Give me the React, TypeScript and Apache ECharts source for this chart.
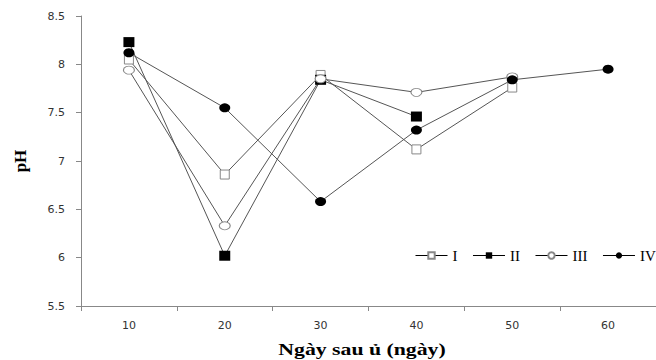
import React, { useEffect, useRef } from "react";
import * as echarts from "echarts";

const days = ["10", "20", "30", "40", "50", "60"];
const seriesNames = ["I", "II", "III", "IV"];
const phI = [8.05, 6.86, 7.89, 7.12, 7.76, null];
const phII = [8.23, 6.02, 7.84, 7.46, null, null];
const phIII = [7.94, 6.33, 7.85, 7.71, 7.87, null];
const phIV = [8.12, 7.55, 6.58, 7.32, 7.84, 7.95];
const yTicks = { min: 5.5, max: 8.5, interval: 0.5 };

export default function App() {
  const ref = useRef<HTMLDivElement>(null);
  useEffect(() => {
    if (!ref.current) return;
    document.body.style.margin = "0";
    const chart = echarts.init(ref.current, null, { renderer: "svg" });
    const lineStyle = { color: "#555", width: 1 };
    const mk = (name: string, data: (number | null)[], symbol: string, size: number | number[], filled: boolean) => ({
      name,
      type: "line",
      data,
      symbol,
      symbolSize: size,
      showAllSymbol: true,
      lineStyle,
      itemStyle: filled
        ? { color: "#000", borderColor: "#000", borderWidth: 0 }
        : { color: "#fff", borderColor: "#888", borderWidth: 1 },
      emphasis: { disabled: true },
    });
    chart.setOption({
      animation: false,
      grid: { left: 81, top: 16, height: 290, width: 582 },
      legend: {
        left: 410,
        top: 243,
        width: 320,
        itemGap: 15,
        itemWidth: 32,
        itemHeight: 8,
        lineStyle: { color: "#000", width: 1 },
        textStyle: { fontFamily: "Liberation Serif", fontSize: 15, color: "#000" },
        data: seriesNames,
      },
      xAxis: {
        type: "category",
        data: days,
        boundaryGap: true,
        axisLine: { lineStyle: { color: "#888", width: 1 } },
        axisTick: { show: true, length: 5, lineStyle: { color: "#888" } },
        axisLabel: { fontFamily: "DejaVu Sans", fontSize: 11, color: "#333", margin: 14 },
      },
      yAxis: {
        type: "value",
        min: yTicks.min,
        max: yTicks.max,
        interval: yTicks.interval,
        splitLine: { show: false },
        axisLine: { show: true, lineStyle: { color: "#888", width: 1 } },
        axisTick: { show: true, length: 5, lineStyle: { color: "#888" } },
        axisLabel: { fontFamily: "DejaVu Sans", fontSize: 11, color: "#333", margin: 16 },
        name: "pH",
        nameLocation: "middle",
        nameGap: 52,
        nameTextStyle: { fontFamily: "Liberation Serif", fontWeight: "bold", fontSize: 17, color: "#000" },
      },
      graphic: [
        {
          type: "text",
          x: 362,
          y: 349,
          scaleX: 1.28,
          style: {
            text: "Ngày sau ủ (ngày)",
            fontFamily: "Liberation Serif",
            fontWeight: "bold",
            fontSize: 17,
            fill: "#000",
            align: "center",
            verticalAlign: "middle",
          },
        },
      ],
      series: [
        mk("I", phI, "rect", 9, false),
        mk("II", phII, "rect", [11, 10], true),
        mk("III", phIII, "circle", [11, 8], false),
        mk("IV", phIV, "circle", [11, 9], true),
      ],
    });
    return () => chart.dispose();
  }, []);
  return <div ref={ref} style={{ width: 656, height: 360 }} />;
}
